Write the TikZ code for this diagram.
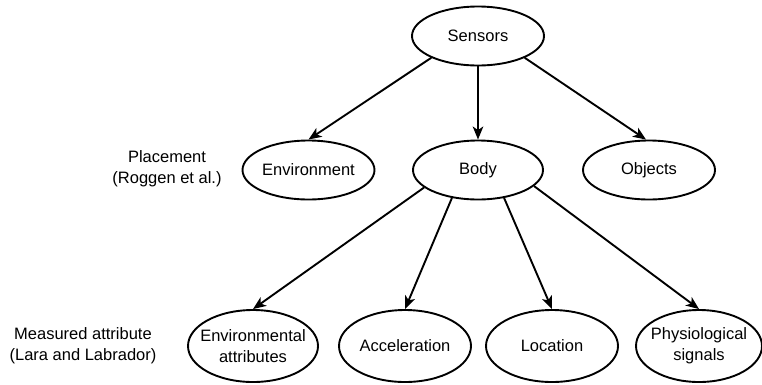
\documentclass[tikz,border=0pt]{standalone}
\usepackage{fontspec}
\setmainfont{Liberation Sans}
\usetikzlibrary{shapes.geometric,arrows.meta}

\begin{document}
\begin{tikzpicture}[x=1pt,y=-1pt,
  oval/.style={draw=black, line width=1.9pt, ellipse, inner sep=0pt,
               minimum width=#1, minimum height=59pt},
  oval/.default=132pt,
  tall/.style={oval=#1, minimum height=72pt},
  tall/.default=128pt,
  lbl/.style={align=center, inner sep=0pt,
              font=\fontsize{16.5}{21}\selectfont},
  link/.style={line width=1.9pt, -{Stealth[length=13pt,width=10.5pt,inset=3.5pt]}}
]
\useasboundingbox (0,0) rectangle (762,384);

% top level
\node[oval] (sensors) at (478,36) {};
\node[lbl] (sensorsT) at (sensors) {Sensors};

% placement level
\node[oval] (env) at (308.5,170) {};
\node[lbl] (envT) at (env) {Environment};
\node[oval=130pt] (body) at (478,170) {};
\node[lbl] (bodyT) at (body) {Body};
\node[oval] (obj) at (649,170) {};
\node[lbl] (objT) at (obj) {Objects};

% measured attribute level
\node[tall=130pt] (envattr) at (253,346) {};
\node[lbl] (envattrT) at (envattr) {Environmental\\attributes};
\node[tall=132pt] (accel) at (405,346) {};
\node[lbl] (accelT) at (accel) {Acceleration};
\node[tall=132pt] (loc) at (552,346) {};
\node[lbl] (locT) at (loc) {Location};
\node[tall=126pt] (physio) at (699,346) {};
\node[lbl] (physioT) at (physio) {Physiological\\signals};

% row captions
\node[lbl] (placement) at (167,168.5) {Placement\\(Roggen et al.)};
\node[lbl] (measured) at (83,346) {Measured attribute\\(Lara and Labrador)};

% connectors
\draw[link] (sensors.205) -- (env.north);
\draw[link] (sensors.south) -- (body.north);
\draw[link] (sensors.335) -- ([xshift=-3pt]obj.north);

\draw[link] (body.198) -- (envattr.north);
\draw[link] (body.227) -- (accel.north);
\draw[link] (body.313) -- (loc.north);
\draw[link] (body.344) -- (physio.north);
\end{tikzpicture}
\end{document}
